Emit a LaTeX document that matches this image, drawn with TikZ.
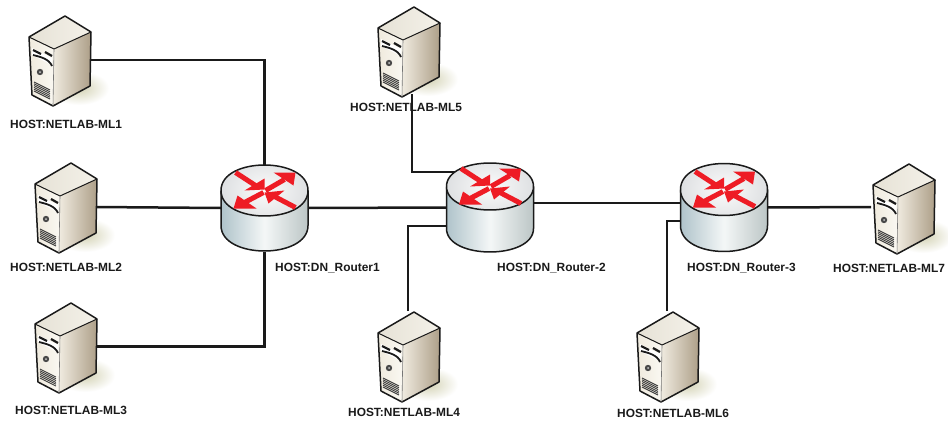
\documentclass[tikz,border=0pt]{standalone}
\usepackage{fontspec}
\setmainfont{Liberation Sans}
\usetikzlibrary{calc}
\definecolor{ink}{HTML}{1A1A1A}
\definecolor{rred}{HTML}{EE1C25}
\definecolor{shadowc}{HTML}{D3D2B4}
\definecolor{topa}{HTML}{E6E2D6}
\definecolor{topb}{HTML}{F4F1E9}
\definecolor{fronta}{HTML}{EFEADD}
\definecolor{frontb}{HTML}{FAF8F2}
\definecolor{sidea}{HTML}{F0EBE0}
\definecolor{sideb}{HTML}{AD9F88}
\definecolor{cyla}{HTML}{AFC3CA}
\definecolor{cylb}{HTML}{F4F7F7}
\definecolor{cylc}{HTML}{BCC6C6}
\definecolor{capa}{HTML}{FBFBFB}
\definecolor{capb}{HTML}{DEE0E2}
\tikzset{
  x=1pt,y=-1pt,
  link/.style={draw=ink,line width=2.5pt,line join=miter},
  hostlabel/.style={font=\fontsize{11.9}{12}\selectfont\bfseries,text=ink,anchor=west,inner sep=0pt},
  iconbox/.style={inner sep=0pt,outer sep=0pt,minimum width=#1},
  serverbox/.style={iconbox=62pt,minimum height=88pt},
  routerbox/.style={iconbox=87pt,minimum height=87pt},
  edge/.style={draw=ink,line width=1.5pt,line join=round},
  rarrow/.style={draw=rred,line width=5pt},
  pics/server/.style={code={
    \shade[inner color=shadowc,outer color=white] (14,72) ellipse [x radius=30,y radius=17];
    \shade[left color=topa,right color=topb] (0,0) -- (26,16) -- (-11,33) -- (-36,21) -- cycle;
    \shade[left color=fronta,right color=frontb] (-36,21) -- (-11,33) -- (-12,90) -- (-33,79) -- cycle;
    \shade[left color=sidea,right color=sideb] (-11,33) -- (26,16) -- (25,70) -- (-12,90) -- cycle;
    \draw[edge] (0,0) -- (26,16) -- (25,70) -- (-12,90) -- (-33,79) -- (-36,21) -- cycle;
    \draw[edge,line width=1pt] (-36,21) -- (-11,33) -- (26,16);
    \draw[draw=ink!60,line width=.6pt] (-11,33) -- (-12,90);
    \fill[white] (-33,32) -- (-13,42) -- (-13,49) -- (-33,39) -- cycle;
    \draw[ink,line width=2.2pt] (-32,34) -- (-24,38);
    \draw[ink,line width=2.2pt] (-20,36) -- (-13,40);
    \draw[ink,line width=1.8pt] (-32,39) .. controls (-24,41) and (-16,43) .. (-13,50);
    \fill[ink!80] (-25,56) circle [radius=3.2];
    \fill[gray!40] (-25,56) circle [radius=1];
    \foreach \k in {0,1.8,3.6,5.4,7.2,9}{\draw[ink!85,line width=.9pt] (-31,66+\k) -- (-15,74+\k);}
  }},
  pics/router/.style n args={2}{code={
    \shade[left color=cyla,right color=cylc,middle color=cylb]
      (-43.5,0) -- (-43.5,#2) .. controls (-43.5,#2+1.333*#1) and (43.5,#2+1.333*#1) .. (43.5,#2) -- (43.5,0) -- cycle;
    \draw[edge] (-43.5,0) -- (-43.5,#2) .. controls (-43.5,#2+1.333*#1) and (43.5,#2+1.333*#1) .. (43.5,#2) -- (43.5,0);
    \shade[inner color=capa,outer color=capb]
      (-43.5,0) .. controls (-43.5,-1.333*#1) and (43.5,-1.333*#1) .. (43.5,0) .. controls (43.5,1.333*#1) and (-43.5,1.333*#1) .. cycle;
    \draw[edge] (-43.5,0) .. controls (-43.5,-1.333*#1) and (43.5,-1.333*#1) .. (43.5,0) .. controls (43.5,1.333*#1) and (-43.5,1.333*#1) .. cycle;
    \draw[rarrow] (-29,-18) -- (-9,-5);
    \fill[rred] (0,-1) -- (0,-12) -- (-20,0) -- cycle;
    \draw[rarrow] (1,0) -- (20,-11);
    \fill[rred] (31,-18) -- (9,-18) -- (29,-5) -- cycle;
    \draw[rarrow] (-1,2) -- (-20,12);
    \fill[rred] (-31,18) -- (-8,18) -- (-27,5) -- cycle;
    \draw[rarrow] (31,17) -- (10,6);
    \fill[rred] (0,2) -- (20,0) -- (4,13) -- cycle;
  }}
}
\begin{document}
\begin{tikzpicture}
\useasboundingbox[fill=white] (0,0) rectangle (948,423);
% invisible bounding boxes of the icons
\node[serverbox] (s1) at (60,61) {};
\node[serverbox] (s2) at (65,207) {};
\node[serverbox] (s3) at (64,347) {};
\node[serverbox] (s4) at (407,355) {};
\node[serverbox] (s5) at (407,50) {};
\node[serverbox] (s6) at (668,355) {};
\node[serverbox] (s7) at (902,207) {};
\node[routerbox] (r1) at (264.5,208) {};
\node[routerbox] (r2) at (490,207.5) {};
\node[routerbox] (r3) at (724,207.5) {};
% bends and levels of the links
\coordinate (j1) at (264.5,60);
\coordinate (j3) at (264.5,346.5);
\coordinate (j5) at (412,172);
\coordinate (j4) at (408,226);
\coordinate (j6) at (667,221);
\coordinate (l23) at (600,203);
\draw[link] (s1.east |- j1) -- (j1) -- (r1.north);
\draw[link] (s2.east) -- (r1.west);
\draw[link] (s3.east |- j3) -- (j3) -- (r1.south);
\draw[link] (r1.east) -- (r2.west);
\draw[link] (r2.center |- l23) -- (r3.center |- l23);
\draw[link] (r3.east) -- (s7.west);
% labels
\node[hostlabel] (t1) at (10,124) {HOST:NETLAB-ML1};
\node[hostlabel] (t2) at (10,267) {HOST:NETLAB-ML2};
\node[hostlabel] (t3) at (15,410) {HOST:NETLAB-ML3};
\node[hostlabel] (t4) at (348,412) {HOST:NETLAB-ML4};
\node[hostlabel] (t5) at (350,107) {HOST:NETLAB-ML5};
\node[hostlabel] (t6) at (617,413) {HOST:NETLAB-ML6};
\node[hostlabel] (t7) at (833,268) {HOST:NETLAB-ML7};
\node[hostlabel] (t8) at (275,268) {HOST:DN\_Router1};
\node[hostlabel] (t9) at (497,268) {HOST:DN\_Router-2};
\node[hostlabel] (t10) at (687,268) {HOST:DN\_Router-3};
\draw[link] (s5.south -| j5) -- (j5) -- (j5 -| r2.center);
\draw[link] (s4.north -| j4) -- (j4) -- (j4 -| r2.center);
\draw[link] (s6.north -| j6) -- (j6) -- (j6 -| r3.center);
% icons
\pic at (65,16) {server};
\pic at (71,163) {server};
\pic at (71,303) {server};
\pic at (414,312) {server};
\pic at (414,7) {server};
\pic at (673,312) {server};
\pic at (909,164) {server};
\pic at (264.5,190.5) {router={25.5}{35}};
\pic at (490,186.5) {router={23.5}{42}};
\pic at (724,189.5) {router={26}{36}};
\end{tikzpicture}
\end{document}
